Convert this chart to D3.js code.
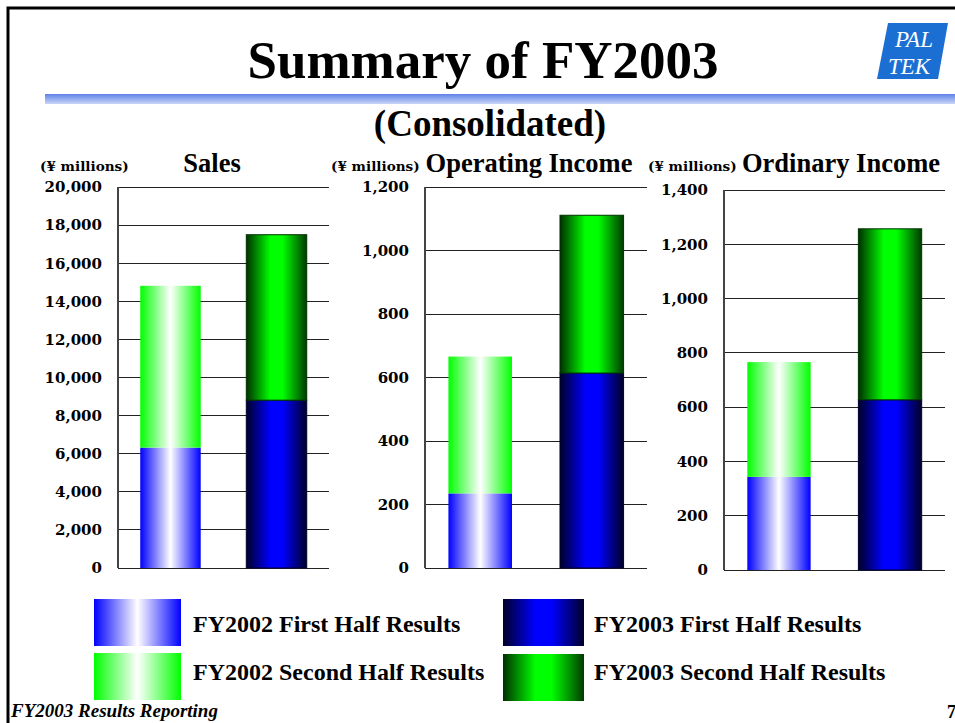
<!DOCTYPE html>
<html>
<head>
<meta charset="utf-8">
<script src="https://cdn.jsdelivr.net/npm/d3@7"></script>
<style>
  html, body { margin: 0; padding: 0; background: #fff; }
  svg { display: block; }
</style>
</head>
<body>
<script>
// ---- data ----
const categories = ["FY2002", "FY2003"];
const salesFirstHalf = [6320, 8810];
const salesSecondHalf = [8495, 8685];
const opFirstHalf = [235, 614];
const opSecondHalf = [431, 497];
const ordFirstHalf = [343, 627];
const ordSecondHalf = [423, 630];
const salesTicks = [0, 2000, 4000, 6000, 8000, 10000, 12000, 14000, 16000, 18000, 20000];
const opTicks = [0, 200, 400, 600, 800, 1000, 1200];
const ordTicks = [0, 200, 400, 600, 800, 1000, 1200, 1400];
const chartTitles = ["Sales", "Operating Income", "Ordinary Income"];
const unitLabel = "(¥ millions)";
const legendLabels = ["FY2002 First Half Results", "FY2002 Second Half Results",
                      "FY2003 First Half Results", "FY2003 Second Half Results"];

const W = 955, H = 723;
const svg = d3.select("body").append("svg").attr("width", W).attr("height", H);
const defs = svg.append("defs");

function hGrad(id, stops) {
  const g = defs.append("linearGradient").attr("id", id)
    .attr("x1", 0).attr("x2", 1).attr("y1", 0).attr("y2", 0);
  stops.forEach(s => g.append("stop").attr("offset", s[0]).attr("stop-color", s[1]));
}
hGrad("g02h1", [["0%", "#0000ff"], ["50%", "#ffffff"], ["100%", "#0000ff"]]);
hGrad("g02h2", [["0%", "#00ff00"], ["50%", "#ffffff"], ["100%", "#00ff00"]]);
hGrad("g03h1", [["0%", "#000028"], ["40%", "#0000ff"], ["60%", "#0000ff"], ["100%", "#000028"]]);
hGrad("g03h2", [["0%", "#003000"], ["40%", "#00ff00"], ["60%", "#00ff00"], ["100%", "#003a00"]]);
const band = defs.append("linearGradient").attr("id", "band")
  .attr("x1", 0).attr("x2", 0).attr("y1", 0).attr("y2", 1);
band.append("stop").attr("offset", "0%").attr("stop-color", "#5f82ea");
band.append("stop").attr("offset", "100%").attr("stop-color", "#c9d6f6");

const fills = [["url(#g02h1)", "url(#g02h2)"], ["url(#g03h1)", "url(#g03h2)"]];
const strokes = [[null, null], ["#000030", "#003300"]];

// ---- page frame ----
svg.append("path").attr("d", `M8,${H} L8,8 L${W},8`)
  .attr("fill", "none").attr("stroke", "#000").attr("stroke-width", 3);

// title
svg.append("text").attr("x", 483).attr("y", 78).attr("text-anchor", "middle")
  .attr("font-family", "Liberation Serif, Times New Roman, serif")
  .attr("font-weight", "bold").attr("font-size", 53).text("Summary of FY2003");
svg.append("rect").attr("x", 45).attr("y", 94).attr("width", W - 45).attr("height", 10)
  .attr("fill", "url(#band)");
svg.append("text").attr("x", 490).attr("y", 136).attr("text-anchor", "middle")
  .attr("font-family", "Liberation Serif, Times New Roman, serif")
  .attr("font-weight", "bold").attr("font-size", 37).text("(Consolidated)");

// logo
const logo = svg.append("g");
logo.append("polygon").attr("points", "888,23 948,23 938,79 877,79").attr("fill", "#1c6fd2");
logo.append("text").attr("x", 914).attr("y", 47).attr("text-anchor", "middle")
  .attr("font-family", "Liberation Serif, serif").attr("font-style", "italic")
  .attr("font-size", 23).attr("fill", "#fff").text("PAL");
logo.append("text").attr("x", 909).attr("y", 74).attr("text-anchor", "middle")
  .attr("font-family", "Liberation Serif, serif").attr("font-style", "italic")
  .attr("font-size", 23).attr("fill", "#fff").text("TEK");

// ---- charts ----
const panels = [
  { h1: salesFirstHalf, h2: salesSecondHalf, ticks: salesTicks, x0: 118, x1: 329, y0: 568, y1: 187,
    unitX: 40, titleX: 212 },
  { h1: opFirstHalf, h2: opSecondHalf, ticks: opTicks, x0: 425, x1: 647, y0: 568, y1: 187,
    unitX: 331, titleX: 529 },
  { h1: ordFirstHalf, h2: ordSecondHalf, ticks: ordTicks, x0: 724, x1: 945, y0: 570, y1: 190,
    unitX: 648, titleX: 841 }
];
const fmt = d3.format(",");

panels.forEach((p, pi) => {
  const g = svg.append("g");
  const x = d3.scaleBand().domain(categories).range([p.x0, p.x1])
    .paddingInner(0.43).paddingOuter(0.21);
  const y = d3.scaleLinear().domain([0, d3.max(p.ticks)]).range([p.y0, p.y1]);

  // gridlines
  g.selectAll("line.grid").data(p.ticks).join("line")
    .attr("x1", p.x0).attr("x2", p.x1)
    .attr("y1", d => y(d)).attr("y2", d => y(d))
    .attr("stroke", "#222").attr("stroke-width", 1).attr("shape-rendering", "crispEdges");
  // left axis line
  g.append("line").attr("x1", p.x0).attr("x2", p.x0).attr("y1", y(d3.max(p.ticks))).attr("y2", p.y0)
    .attr("stroke", "#444").attr("stroke-width", 1.2).attr("shape-rendering", "crispEdges");

  // tick labels via axis
  const axis = d3.axisLeft(y).tickValues(p.ticks).tickFormat(fmt).tickSize(0).tickPadding(16);
  const ag = g.append("g").attr("transform", `translate(${p.x0},0)`).call(axis);
  ag.select(".domain").remove();
  ag.selectAll("text").attr("font-family", "DejaVu Serif, serif").attr("font-weight", "bold")
    .attr("font-size", 15).attr("fill", "#000");

  // stacked bars
  categories.forEach((c, ci) => {
    const a = p.h1[ci], b = p.h2[ci];
    const segs = [[0, a, 0], [a, a + b, 1]];
    segs.forEach(([lo, hi, si]) => {
      const r = g.append("rect").attr("x", x(c)).attr("width", x.bandwidth())
        .attr("y", y(hi)).attr("height", y(lo) - y(hi)).attr("fill", fills[ci][si]);
      if (strokes[ci][si]) r.attr("stroke", strokes[ci][si]).attr("stroke-width", 1);
    });
  });

  // labels
  svg.append("text").attr("x", p.unitX).attr("y", 171)
    .attr("font-family", "DejaVu Serif, serif").attr("font-weight", "bold")
    .attr("font-size", 13.6).text(unitLabel);
  svg.append("text").attr("x", p.titleX).attr("y", 172).attr("text-anchor", "middle")
    .attr("font-family", "Liberation Serif, Times New Roman, serif").attr("font-weight", "bold")
    .attr("font-size", 26.5).text(chartTitles[pi]);
});

// ---- legend ----
const legendItems = [
  { fill: "url(#g02h1)", x: 94, y: 599, w: 87 },
  { fill: "url(#g02h2)", x: 94, y: 653, w: 87 },
  { fill: "url(#g03h1)", x: 503, y: 599, w: 81 },
  { fill: "url(#g03h2)", x: 503, y: 654, w: 81 }
];
const lg = svg.append("g");
lg.selectAll("rect").data(legendItems).join("rect")
  .attr("x", d => d.x).attr("y", d => d.y).attr("width", d => d.w).attr("height", 47)
  .attr("fill", d => d.fill);
lg.selectAll("text").data(legendItems).join("text")
  .attr("x", d => d.x < 300 ? 193 : 594)
  .attr("y", d => d.y < 640 ? 632 : 680)
  .attr("font-family", "Liberation Serif, Times New Roman, serif").attr("font-weight", "bold")
  .attr("font-size", 24).text((d, i) => legendLabels[i]);

// footer
svg.append("text").attr("x", 11).attr("y", 717)
  .attr("font-family", "Liberation Serif, Times New Roman, serif").attr("font-weight", "bold")
  .attr("font-style", "italic").attr("font-size", 19).text("FY2003 Results Reporting");
svg.append("text").attr("x", 947).attr("y", 718)
  .attr("font-family", "Liberation Serif, Times New Roman, serif").attr("font-weight", "bold")
  .attr("font-size", 18).text("7");
</script>
</body>
</html>
